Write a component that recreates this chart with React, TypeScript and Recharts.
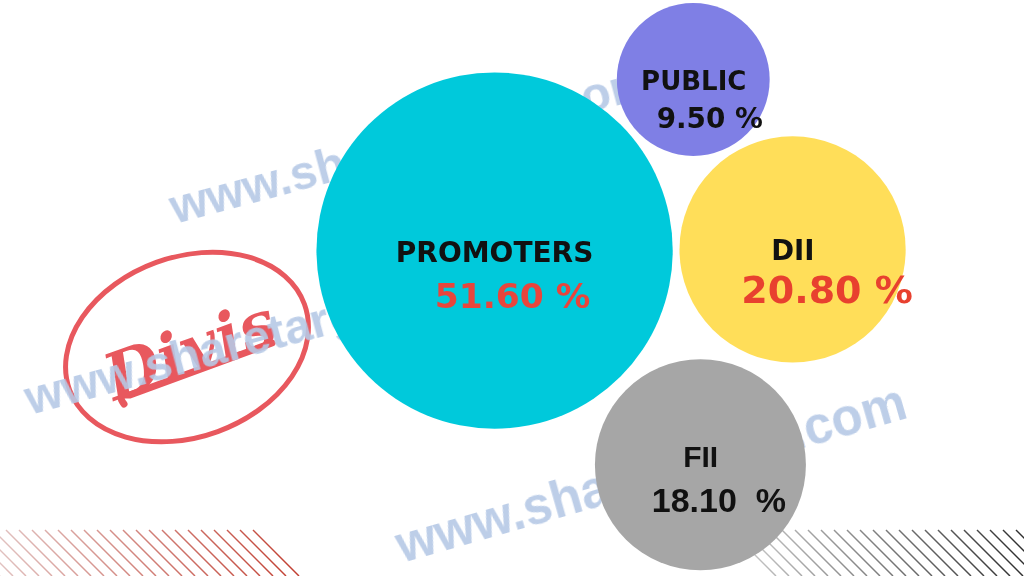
import { ScatterChart, Scatter, XAxis, YAxis, ZAxis } from "recharts";

// shareholding pattern, one bubble per holder group
const categories = ["PROMOTERS", "PUBLIC", "DII", "FII"];
const holdings = [51.6, 9.5, 20.8, 18.1];
const valueLabels = ["51.60 %", "9.50 %", "20.80 %", "18.10  %"];
// bubble centres on a 0..100 grid
const bubbleX = [48.3, 67.7, 77.4, 68.4];
const bubbleY = [56.5, 86.2, 56.7, 19.3];

const bubbleColors = ["#00C9DB", "#7F7FE5", "#FFDE59", "#A6A6A6"];

const data = categories.map((name, i) => ({
  name,
  x: bubbleX[i],
  y: bubbleY[i],
  z: holdings[i],
  label: valueLabels[i],
  fill: bubbleColors[i],
}));

// text placement inside each bubble, relative to its centre
const labelStyle: Record<
  string,
  {
    font: string;
    nameSize: number;
    nameDx: number;
    nameDy: number;
    valueSize: number;
    valueDx: number;
    valueDy: number;
    valueColor: string;
  }
> = {
  PROMOTERS: { font: "DejaVu Sans", nameSize: 28, nameDx: 0, nameDy: 11.5, valueSize: 34.5, valueDx: 18, valueDy: 57.5, valueColor: "#E8453C" },
  PUBLIC: { font: "DejaVu Sans", nameSize: 26, nameDx: 0.5, nameDy: 10.5, valueSize: 27.8, valueDx: 16.5, valueDy: 49, valueColor: "#111111" },
  DII: { font: "DejaVu Sans", nameSize: 27.5, nameDx: 0.3, nameDy: 10.5, valueSize: 38, valueDx: 34.5, valueDy: 53.5, valueColor: "#E8402F" },
  FII: { font: "Liberation Sans", nameSize: 30, nameDx: 0.3, nameDy: 1.7, valueSize: 34, valueDx: 18.5, valueDy: 46.7, valueColor: "#111111" },
};

function Bubble(props: any) {
  const { cx, cy, width, payload } = props;
  const r = width / 2;
  const s = labelStyle[payload.name];
  return (
    <g>
      <circle cx={cx} cy={cy} r={r} fill={payload.fill} />
      <text
        x={cx + s.nameDx}
        y={cy + s.nameDy}
        textAnchor="middle"
        fontFamily={s.font}
        fontWeight="bold"
        fontSize={s.nameSize}
        fill="#111111"
      >
        {payload.name}
      </text>
      <text
        x={cx + s.valueDx}
        y={cy + s.valueDy}
        textAnchor="middle"
        fontFamily={s.font}
        fontWeight="bold"
        fontSize={s.valueSize}
        fill={s.valueColor}
        style={{ whiteSpace: "pre" }}
      >
        {payload.label}
      </text>
    </g>
  );
}

function Stripes({ from, to, light, dark, id }: { from: number; to: number; light: string; dark: string; id: string }) {
  const lines = [];
  for (let x = from; x <= to; x += 13) {
    lines.push(<line key={x} x1={x} y1={530} x2={x + 46} y2={576} stroke={`url(#${id})`} strokeWidth={1.5} />);
  }
  return (
    <g>
      <defs>
        <linearGradient id={id} gradientUnits="userSpaceOnUse" x1={from} y1={0} x2={to + 46} y2={0}>
          <stop offset="0%" stopColor={light} />
          <stop offset="100%" stopColor={dark} />
        </linearGradient>
      </defs>
      {lines}
    </g>
  );
}

function Backdrop() {
  const mark = "www.sharetarget.com";
  const wm = { fontFamily: "Liberation Sans", fontWeight: "bold" as const, fontSize: 48, fill: "#B6C9E6" };
  return (
    <svg width={1024} height={576} style={{ position: "absolute", left: 0, top: 0 }}>
      <rect width={1024} height={576} fill="#ffffff" />
      <Stripes id="redStripe" from={-46} to={263} light="#e6d6d6" dark="#c0392b" />
      <Stripes id="blackStripe" from={730} to={1030} light="#d0d0d0" dark="#111111" />
      {/* logo */}
      <g stroke="#E8585E" fill="none">
        <ellipse cx={187} cy={347} rx={125} ry={90} strokeWidth={5} transform="rotate(-20 187 347)" />
        <path d="M124 404 Q116 394 130 395 L272 343" strokeWidth={7} strokeLinecap="round" />
      </g>
      <text
        x={190}
        y={372}
        textAnchor="middle"
        fontFamily="DejaVu Serif"
        fontStyle="italic"
        fontWeight="bold"
        fontSize={64}
        fill="#E8585E"
        transform="rotate(-20 190 350)"
      >
        Divis
      </text>
      {/* watermark */}
      <g opacity={0.9}>
        <text x={175} y={224} {...wm} transform="rotate(-15 175 224)">{mark}</text>
        <text x={30} y={415} {...wm} transform="rotate(-15 30 415)">{mark}</text>
        <text x={402} y={563} {...wm} fontSize={51} transform="rotate(-16 402 563)">{mark}</text>
      </g>
    </svg>
  );
}

export default function App() {
  return (
    <div style={{ position: "absolute", left: 0, top: 0, width: 1024, height: 576 }}>
      <Backdrop />
      <div style={{ position: "absolute", left: 0, top: 0 }}>
        <ScatterChart width={1024} height={576} margin={{ top: 0, right: 0, bottom: 0, left: 0 }}>
          <XAxis type="number" dataKey="x" domain={[0, 100]} hide />
          <YAxis type="number" dataKey="y" domain={[0, 100]} hide />
          <ZAxis type="number" dataKey="z" domain={[0, 60]} range={[0, 115920]} />
          <Scatter data={data} shape={(p: any) => <Bubble {...p} />} isAnimationActive={false} />
        </ScatterChart>
      </div>
    </div>
  );
}
